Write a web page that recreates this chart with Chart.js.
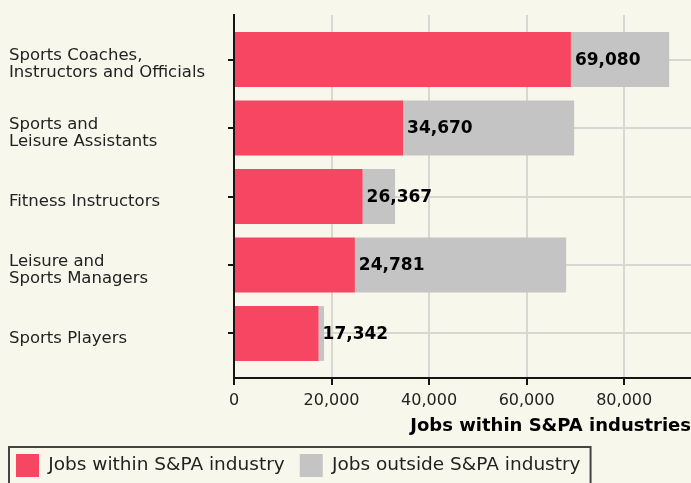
<!DOCTYPE html>
<html>
<head>
<meta charset="utf-8">
<script src="https://cdn.jsdelivr.net/npm/chart.js@4.4.1/dist/chart.umd.min.js"></script>
<style>
    html, body { margin: 0; padding: 0; background: #f8f7ec; }
    #wrap { width: 691px; height: 483px; position: relative; }
</style>
</head>
<body>
<div id="wrap"><canvas id="jobsChart"></canvas></div>
<script>
const occupations = [
    ["Sports Coaches,", "Instructors and Officials"],
    ["Sports and", "Leisure Assistants"],
    "Fitness Instructors",
    ["Leisure and", "Sports Managers"],
    "Sports Players"
];
const jobsWithin = [69080, 34670, 26367, 24781, 17342];
const jobsOutside = [20150, 35070, 6660, 43320, 1120];
const xTicks = [0, 20000, 40000, 60000, 80000];

const fontFamily = "'DejaVu Sans', sans-serif";
const gridColor = "#d8d8d2";
const inkColor = "#151515";

// value labels at the end of the red bars
const valueLabels = {
    id: "valueLabels",
    afterDatasetsDraw: function (chart) {
        const ctx = chart.ctx;
        const meta = chart.getDatasetMeta(0);
        ctx.save();
        ctx.font = "bold 17px " + fontFamily;
        ctx.fillStyle = "#000";
        ctx.textAlign = "left";
        ctx.textBaseline = "middle";
        meta.data.forEach((bar, i) => {
            ctx.fillText(jobsWithin[i].toLocaleString("en-US"), bar.x + 4, bar.y + 1);
        });
        ctx.restore();
    }
};

// framed legend, shifted a little left of the y labels
const legendFrame = {
    id: "legendFrame",
    afterLayout: function (chart) {
        chart.legend.left -= 8;
        chart.legend.right -= 8;
    },
    afterDraw: function (chart) {
        const lg = chart.legend;
        const pad = lg.options.labels.padding;
        const ctx = chart.ctx;
        const left = lg.left + pad - 7;
        const right = lg.left + pad + lg.lineWidths[0] - pad + 10;
        const top = lg.top + pad - 7;
        ctx.save();
        ctx.strokeStyle = "#444";
        ctx.lineWidth = 2;
        ctx.strokeRect(left, top, right - left, chart.height - top + 10);
        ctx.restore();
    }
};

const ctx = document.getElementById("jobsChart").getContext("2d");
const chart = new Chart(ctx, {
    type: "bar",
    data: {
        labels: occupations,
        datasets: [
            {
                label: "Jobs within S&PA industry",
                data: jobsWithin,
                backgroundColor: "#f64662",
                borderWidth: 0,
                barPercentage: 0.8,
                categoryPercentage: 1
            },
            {
                label: "Jobs outside S&PA industry",
                data: jobsOutside,
                backgroundColor: "#c4c4c4",
                borderWidth: 0,
                barPercentage: 0.8,
                categoryPercentage: 1
            }
        ]
    },
    options: {
        indexAxis: "y",
        responsive: true,
        maintainAspectRatio: false,
        animation: false,
        layout: {
            padding: { top: 15, left: 9, right: 0, bottom: -4 }
        },
        scales: {
            x: {
                stacked: true,
                min: 0,
                max: 93700,
                afterBuildTicks: function (scale) {
                    scale.ticks = xTicks.map(v => ({ value: v }));
                },
                afterFit: function (scale) {
                    scale.height = 61;
                },
                border: { color: inkColor, width: 2 },
                grid: {
                    color: gridColor,
                    lineWidth: 2,
                    tickColor: inkColor,
                    tickWidth: 2,
                    tickLength: 7
                },
                ticks: {
                    color: "#222",
                    padding: 6,
                    font: { family: fontFamily, size: 16 },
                    callback: function (value) {
                        return value.toLocaleString("en-US");
                    }
                },
                title: {
                    display: true,
                    text: "Jobs within S&PA industries",
                    align: "end",
                    color: "#000",
                    padding: { top: 4, bottom: 2 },
                    font: { family: fontFamily, size: 18, weight: "bold" }
                }
            },
            y: {
                stacked: true,
                offset: true,
                // leave a bit of room above the first and below the last bar
                afterBuildTicks: function (scale) {
                    scale._startValue = -0.65;
                    scale._valueRange = occupations.length + 0.3;
                },
                afterFit: function (scale) {
                    scale.width = 225;
                },
                border: { color: inkColor, width: 2 },
                grid: {
                    offset: false,
                    color: gridColor,
                    lineWidth: 2,
                    tickColor: inkColor,
                    tickWidth: 2,
                    tickLength: 6
                },
                ticks: {
                    color: "#222",
                    crossAlign: "far",
                    labelOffset: 5,
                    font: { family: fontFamily, size: 16.5, lineHeight: "17px" }
                }
            }
        },
        plugins: {
            legend: {
                position: "bottom",
                align: "start",
                labels: {
                    boxWidth: 23,
                    boxHeight: 23,
                    padding: 15,
                    color: "#222",
                    font: { family: fontFamily, size: 18.5 }
                }
            },
            tooltip: { enabled: false }
        }
    },
    plugins: [valueLabels, legendFrame]
});
</script>
</body>
</html>
